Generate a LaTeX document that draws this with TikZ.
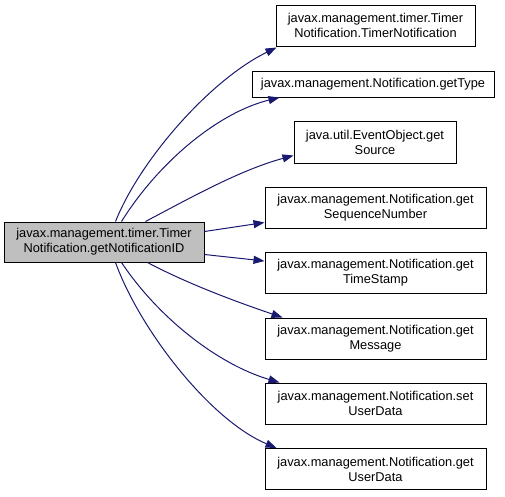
\documentclass[tikz,border=0pt]{standalone}
\usepackage{fontspec}
\setmainfont{Liberation Sans}
\usetikzlibrary{arrows.meta,calc}
\definecolor{edgeblue}{HTML}{191970}
\definecolor{nodegray}{HTML}{BFBFBF}
\begin{document}
\begin{tikzpicture}[x=1pt,y=-1pt,font=\fontsize{12.8}{15}\selectfont,
  box/.style={draw=black,line width=1pt,fill=white,inner sep=0pt,align=center,minimum height=41pt},
  edge/.style={draw=edgeblue,line width=1pt,-{Triangle[length=11pt,width=8pt]},fill=none}]
\useasboundingbox (0,0) rectangle (505,496);
\node[box,fill=nodegray,minimum width=200pt,minimum height=40pt] (src) at (104,242) {javax.management.timer.Timer\\Notification.getNotificationID};
\node[box,minimum width=199pt] (n1) at (375.5,25.5) {javax.management.timer.Timer\\Notification.TimerNotification};
\node[box,minimum width=242pt,minimum height=26pt] (n2) at (373,84) {javax.management.Notification.getType};
\node[box,minimum width=162pt,minimum height=42pt] (n3) at (375,142) {java.util.EventObject.get\\Source};
\node[box,minimum width=221pt] (n4) at (375.5,207.5) {javax.management.Notification.get\\SequenceNumber};
\node[box,minimum width=221pt] (n5) at (375.5,273) {javax.management.Notification.get\\TimeStamp};
\node[box,minimum width=221pt] (n6) at (375.5,338.5) {javax.management.Notification.get\\Message};
\node[box,minimum width=221pt] (n7) at (375.5,403.5) {javax.management.Notification.set\\UserData};
\node[box,minimum width=221pt] (n8) at (375.5,469) {javax.management.Notification.get\\UserData};
\draw[edge] ($(src.north west)+(112,0)$) .. controls (140,160) and (210,80) .. ($(n1.south west)+(1,1)$);
\draw[edge] ($(src.north west)+(118,0)$) .. controls (160,160) and (220,112) .. ($(n2.south west)+(28,0)$);
\draw[edge] ($(src.north west)+(142,0)$) .. controls (190,198) and (240,170) .. ($(n3.south west)+(0,-8)$);
\draw[edge] ($(src.north east)+(0,10)$) -- ($(n4.south west)+(0,-6)$);
\draw[edge] ($(src.south east)+(0,-8)$) -- ($(n5.north west)+(0,9)$);
\draw[edge] ($(src.south west)+(144,0)$) .. controls (190,285) and (240,303) .. ($(n6.north west)+(18,0)$);
\draw[edge] ($(src.south west)+(118,0)$) .. controls (160,320) and (220,365) .. ($(n7.north west)+(15,0)$);
\draw[edge] ($(src.south west)+(112,0)$) .. controls (140,330) and (210,420) .. ($(n8.north west)+(12,0)$);
\end{tikzpicture}
\end{document}
